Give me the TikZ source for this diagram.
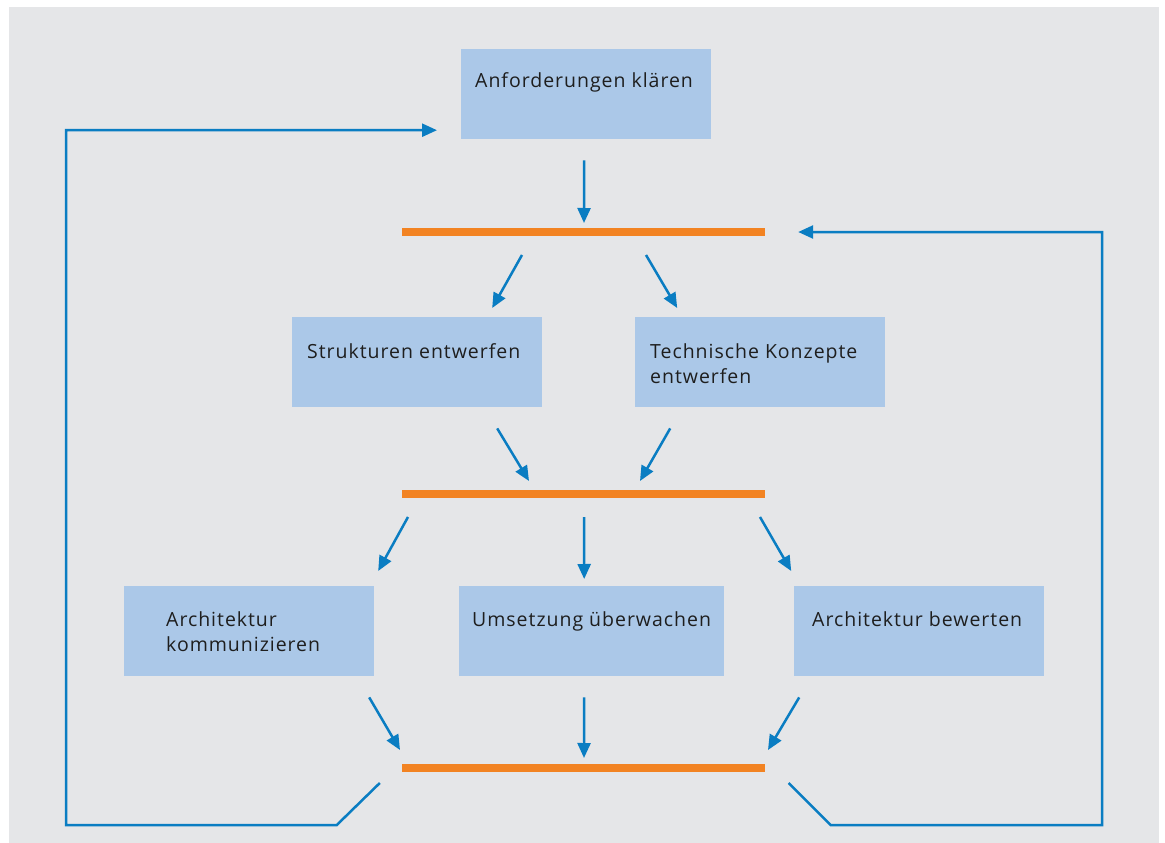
\documentclass[tikz,border=0pt]{standalone}
\usepackage{fontspec}
\setmainfont{Open Sans}[LetterSpace=5]
\usetikzlibrary{arrows.meta,calc}
\definecolor{bg}{HTML}{E5E6E8}
\definecolor{boxfill}{HTML}{ABC8E8}
\definecolor{flow}{HTML}{0A7DC2}
\definecolor{barc}{HTML}{F28322}
\definecolor{ink}{HTML}{1E1E1E}
\begin{document}
\begin{tikzpicture}[x=1pt,y=-1pt,
  task/.style={fill=boxfill,draw=none,minimum width=250pt,minimum height=90pt,inner sep=0pt,anchor=north west},
  lbl/.style={anchor=base west,align=left,inner sep=0pt,text=ink,font=\fontsize{19.5}{25}\selectfont},
  sync/.style={fill=barc,draw=none,minimum width=363pt,minimum height=8pt,inner sep=0pt},
  flowarrow/.style={draw=flow,line width=2.5pt,-{Triangle[length=15pt,width=13pt]}}]

% canvas
\useasboundingbox (0,0) rectangle (1165,843);
\fill[bg] (9,7) rectangle (1159,843);

% activities
\node[task] (A) at (461,49) {};
\node[task] (S) at (292,317) {};
\node[task] (T) at (635,317) {};
\node[task] (K) at (124,586) {};
\node[task,minimum width=265pt] (U) at (459,586) {};
\node[task] (B) at (794,586) {};

% labels (base anchor sits on the last line)
\node[lbl] (tA) at (475,88) {Anforderungen klären};
\node[lbl] (tS) at (307,358) {Strukturen entwerfen};
\node[lbl] (tT) at (650,383) {Technische Konzepte\\entwerfen};
\node[lbl] (tK) at (166,651) {Architektur\\kommunizieren};
\node[lbl] (tU) at (472,626.5) {Umsetzung überwachen};
\node[lbl] (tB) at (812,626.5) {Architektur bewerten};

% synchronisation bars
\node[sync] (b1) at (583.5,232) {};
\node[sync] (b2) at (583.5,493.5) {};
\node[sync] (b3) at (583.5,767.5) {};

% flow
\draw[flowarrow] ($(A.south)+(-2,21)$) -- ($(b1.center)+(0.5,-9)$);
\draw[flowarrow] ($(b1.center)+(-61.5,23)$) -- ($(S.north)+(75,-9)$);
\draw[flowarrow] ($(b1.center)+(62.5,23)$) -- ($(T.north)+(-83,-9)$);

\draw[flowarrow] ($(S.south)+(80,21)$) -- ($(b2.center)+(-54.5,-12.5)$);
\draw[flowarrow] ($(T.south)+(-90,21)$) -- ($(b2.center)+(56.5,-12.5)$);

\draw[flowarrow] ($(b2.center)+(-175.5,23.5)$) -- ($(K.north)+(129,-15)$);
\draw[flowarrow] ($(b2.center)+(0.5,23.5)$) -- ($(U.north)+(-7.5,-7)$);
\draw[flowarrow] ($(b2.center)+(176.5,23.5)$) -- ($(B.north)+(-128,-15)$);

\draw[flowarrow] ($(K.south)+(120,21)$) -- ($(b3.center)+(-183.5,-17.5)$);
\draw[flowarrow] ($(U.south)+(-7.5,21)$) -- ($(b3.center)+(0.5,-9.5)$);
\draw[flowarrow] ($(B.south)+(-120,21)$) -- ($(b3.center)+(184.5,-17.5)$);

% feedback loops
\draw[flowarrow] ($(b3.west)+(-22,15.5)$) -- ++(-43,42) -- (66,825) |- ($(A.west)+(-24,36)$);
\draw[flowarrow] ($(b3.east)+(23.5,15.5)$) -- ++(42,42) -- (1102,825) |- ($(b1.east)+(33,0)$);
\end{tikzpicture}
\end{document}
